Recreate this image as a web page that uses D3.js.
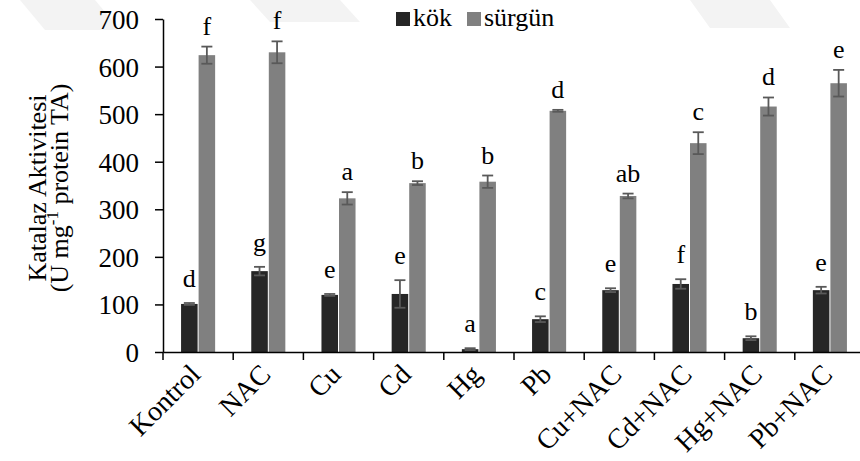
<!DOCTYPE html>
<html>
<head>
<meta charset="utf-8">
<script src="https://cdn.jsdelivr.net/npm/d3@7/dist/d3.min.js"></script>
<style>
  html, body { margin: 0; padding: 0; background: #fff; }
  svg text { font-family: "Liberation Serif", "Times New Roman", serif !important; fill: #000; }
</style>
</head>
<body>
<svg id="chart" width="860" height="461"></svg>
<script>
// Catalase activity in root (kök) and shoot (sürgün) tissue per treatment
const categories = ["Kontrol", "NAC", "Cu", "Cd", "Hg", "Pb", "Cu+NAC", "Cd+NAC", "Hg+NAC", "Pb+NAC"];
const seriesNames = ["kök", "sürgün"];
const kokValues = [101, 170, 120, 122, 6, 69, 130, 143, 29, 130];
const kokErrors = [2, 9, 2, 29, 2, 6, 4, 10, 4, 7];
const kokLetters = ["d", "g", "e", "e", "a", "c", "e", "f", "b", "e"];
const surgunValues = [624, 630, 323, 355, 358, 507, 328, 439, 516, 565];
const surgunErrors = [18, 23, 13, 4, 13, 2, 5, 23, 19, 28];
const surgunLetters = ["f", "f", "a", "b", "b", "d", "ab", "c", "d", "e"];
const yTicks = [0, 100, 200, 300, 400, 500, 600, 700];

const colors = { "kök": "#262626", "sürgün": "#808080" };
const letterGap = { "kök": 16, "sürgün": 12 };

const svg = d3.select("#chart");
const plot = { left: 163, right: 865, top: 19, bottom: 352 };
const FONT = 26;
const TICK_FONT = 27;
const XLABEL_FONT = 28;
const SERIF = "Liberation Serif, Times New Roman, serif";

// faint background strokes along the top edge
const haze = svg.append("g").attr("fill", "#f3f3f3");
[[20, 0, 95, 0, 120, 30, 45, 30], [250, 0, 340, 0, 360, 22, 270, 22], [690, 0, 770, 0, 790, 28, 710, 28]]
  .forEach(p => haze.append("polygon").attr("points", d3.range(0, p.length, 2).map(i => p[i] + "," + p[i + 1]).join(" ")));

const x = d3.scaleBand().domain(categories).range([plot.left, plot.right]);
const xs = d3.scaleBand().domain(seriesNames).range([0, x.bandwidth()])
  .paddingInner(0.057).paddingOuter(1.03);
const y = d3.scaleLinear().domain([0, 700]).range([plot.bottom, plot.top]);

const rows = [];
categories.forEach((c, i) => {
  rows.push({ cat: c, s: "kök", v: kokValues[i], e: kokErrors[i], l: kokLetters[i] });
  rows.push({ cat: c, s: "sürgün", v: surgunValues[i], e: surgunErrors[i], l: surgunLetters[i] });
});

// bars
svg.append("g").selectAll("rect").data(rows).join("rect")
  .attr("x", d => x(d.cat) + xs(d.s))
  .attr("y", d => y(d.v))
  .attr("width", xs.bandwidth())
  .attr("height", d => y(0) - y(d.v))
  .attr("fill", d => colors[d.s]);

// error bars
const eb = svg.append("g").attr("stroke", "#595959").attr("stroke-width", 1.8).attr("fill", "none");
rows.forEach(d => {
  const cx = x(d.cat) + xs(d.s) + xs.bandwidth() / 2;
  const y1 = y(d.v + d.e), y2 = y(d.v - d.e);
  eb.append("line").attr("x1", cx).attr("x2", cx).attr("y1", y1).attr("y2", y2);
  eb.append("line").attr("x1", cx - 5.5).attr("x2", cx + 5.5).attr("y1", y1).attr("y2", y1);
  eb.append("line").attr("x1", cx - 5.5).attr("x2", cx + 5.5).attr("y1", y2).attr("y2", y2);
});

// significance letters
svg.append("g").selectAll("text").data(rows).join("text")
  .attr("x", d => x(d.cat) + xs(d.s) + xs.bandwidth() / 2)
  .attr("y", d => y(d.v + d.e) - letterGap[d.s])
  .attr("text-anchor", "middle")
  .style("font-family", SERIF).style("font-size", FONT + "px")
  .text(d => d.l);

// y axis
const yAxis = svg.append("g").attr("transform", `translate(${plot.left},0)`)
  .call(d3.axisLeft(y).tickValues(yTicks).tickSize(8).tickPadding(16).tickSizeOuter(0));
yAxis.select(".domain").attr("stroke", "#000").attr("stroke-width", 1.5);
yAxis.selectAll(".tick line").attr("stroke", "#000").attr("stroke-width", 1.5);
yAxis.selectAll(".tick text").style("font-family", SERIF).style("font-size", TICK_FONT + "px").attr("dy", "0.35em");

// x axis
const xAxis = svg.append("g").attr("transform", `translate(0,${plot.bottom})`)
  .call(d3.axisBottom(x).tickSize(0).tickSizeOuter(0));
xAxis.select(".domain").attr("stroke", "#000").attr("stroke-width", 1.5);
// category boundary ticks
xAxis.selectAll(".boundary").data(categories).join("line")
  .attr("x1", d => x(d)).attr("x2", d => x(d))
  .attr("y1", 0).attr("y2", 8)
  .attr("stroke", "#000").attr("stroke-width", 1.5);
xAxis.selectAll(".tick text")
  .style("font-family", SERIF).style("font-size", XLABEL_FONT + "px")
  .attr("text-anchor", "end")
  .attr("transform", "translate(4,24) rotate(-45)")
  .attr("dy", 0).attr("y", 0).attr("x", 0);

// y axis title
const yt = svg.append("text")
  .attr("transform", "translate(0,188) rotate(-90)")
  .attr("text-anchor", "middle")
  .style("font-family", SERIF).style("font-size", FONT + "px");
yt.append("tspan").attr("x", 0).attr("y", 46).text("Katalaz Aktivitesi");
const t2 = yt.append("tspan").attr("x", 0).attr("y", 68);
t2.append("tspan").text("(U mg");
t2.append("tspan").style("font-size", (FONT * 0.65) + "px").attr("dy", -10).text("-1");
t2.append("tspan").attr("dy", 10).text(" protein TA)");

// legend
const lg = svg.append("g");
const legendX = [396, 467];
seriesNames.forEach((s, i) => {
  lg.append("rect").attr("x", legendX[i]).attr("y", 12).attr("width", 14).attr("height", 14).attr("fill", colors[s]);
  lg.append("text").attr("x", legendX[i] + 17).attr("y", 26)
    .style("font-family", SERIF).style("font-size", FONT + "px").text(s);
});
</script>
</body>
</html>
